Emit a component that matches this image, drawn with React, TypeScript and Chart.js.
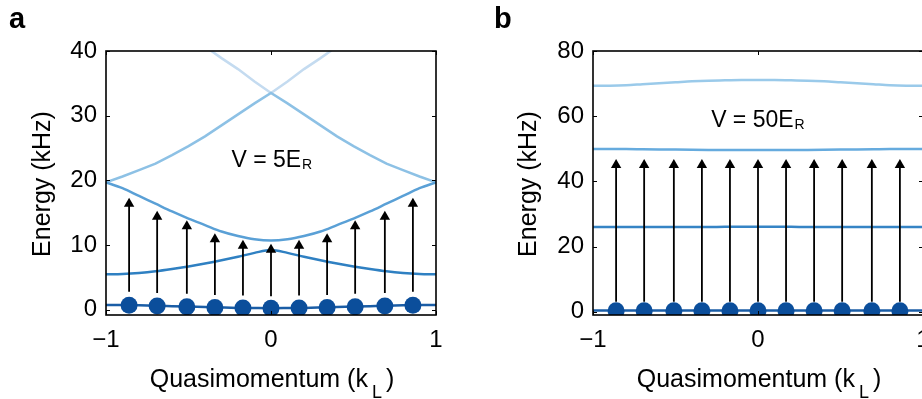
import React, { useEffect, useRef } from "react";
import { Chart, registerables } from "chart.js";

Chart.register(...registerables);

const FONT = "'Liberation Sans', Arial, Helvetica, sans-serif";

// ---------- shared data ----------
const kGrid = [-1, -0.9, -0.8, -0.7, -0.6, -0.5, -0.4, -0.3, -0.2, -0.1, 0, 0.1, 0.2, 0.3, 0.4, 0.5, 0.6, 0.7, 0.8, 0.9, 1];
const xTicks = [-1, 0, 1];
const dotK = [-0.86, -0.69, -0.51, -0.34, -0.17, 0, 0.17, 0.34, 0.51, 0.69, 0.86];

// ---------- panel a (V = 5 E_R) ----------
const yTicksA = [0, 10, 20, 30, 40];
const bandA1 = [0.75, 0.74, 0.7, 0.64, 0.57, 0.5, 0.43, 0.36, 0.3, 0.27, 0.25, 0.27, 0.3, 0.36, 0.43, 0.5, 0.57, 0.64, 0.7, 0.74, 0.75];
const bandA2 = [5.5, 5.55, 5.7, 5.95, 6.3, 6.7, 7.15, 7.65, 8.2, 8.8, 9.25, 8.8, 8.2, 7.65, 7.15, 6.7, 6.3, 5.95, 5.7, 5.55, 5.5];
const bandA3 = [19.7, 18.8, 17.6, 16.4, 15.2, 14.1, 13.1, 12.1, 11.4, 10.9, 10.7, 10.9, 11.4, 12.1, 13.1, 14.1, 15.2, 16.4, 17.6, 18.8, 19.7];
const bandA4 = [19.7, 20.6, 21.6, 22.6, 23.9, 25.3, 26.8, 28.5, 30.2, 31.9, 33.5, 31.9, 30.2, 28.5, 26.8, 25.3, 23.9, 22.6, 21.6, 20.6, 19.7];
const bandA5 = [null, null, null, null, null, 42.5, 40.7, 38.9, 37.2, 35.3, 33.5, 35.3, 37.2, 38.9, 40.7, 42.5, null, null, null, null, null];
const dotA = [0.72, 0.6, 0.48, 0.36, 0.28, 0.25, 0.28, 0.36, 0.48, 0.6, 0.72];
const arrowBaseA = [2.8, 2.6, 2.5, 2.3, 2.2, 2.1, 2.2, 2.3, 2.5, 2.6, 2.8];
const arrowTipA = [16.4, 14.4, 12.9, 10.9, 9.9, 9.3, 9.9, 10.9, 12.9, 14.4, 16.4];

// ---------- panel b (V = 50 E_R) ----------
const yTicksB = [0, 20, 40, 60, 80];
const bandB1 = [0.35, 0.35, 0.35, 0.35, 0.35, 0.35, 0.35, 0.35, 0.35, 0.35, 0.35, 0.35, 0.35, 0.35, 0.35, 0.35, 0.35, 0.35, 0.35, 0.35, 0.35];
const bandB2 = [26.0, 26.0, 26.0, 26.0, 26.0, 26.0, 26.0, 26.0, 26.05, 26.05, 26.05, 26.05, 26.05, 26.0, 26.0, 26.0, 26.0, 26.0, 26.0, 26.0, 26.0];
const bandB3 = [49.9, 49.9, 49.9, 49.85, 49.8, 49.75, 49.7, 49.65, 49.6, 49.6, 49.6, 49.6, 49.6, 49.65, 49.7, 49.75, 49.8, 49.85, 49.9, 49.9, 49.9];
const bandB4 = [69.3, 69.35, 69.5, 69.8, 70.1, 70.4, 70.7, 70.9, 71.0, 71.1, 71.1, 71.1, 71.0, 70.9, 70.7, 70.4, 70.1, 69.8, 69.5, 69.35, 69.3];
const dotB = [0.3, 0.3, 0.3, 0.3, 0.3, 0.3, 0.3, 0.3, 0.3, 0.3, 0.3];
const arrowBaseB = [3.1, 3.1, 3.1, 3.1, 3.1, 3.1, 3.1, 3.1, 3.1, 3.1, 3.1];
const arrowTipB = [45.0, 45.0, 45.0, 45.0, 45.0, 45.0, 45.0, 45.0, 45.0, 45.0, 45.0];

// ---------- styling ----------
const C_DOT = "#0b4e9b";
const C1 = "#1a5da6";
const C2 = "#2f80c2";
const C3 = "#5aa0d6";
const C4 = "#8dc1e5";
const C5 = "#c4dbf0";

type PanelCfg = {
  letter: string;
  letterX: number;
  letterY: number;
  yTicks: number[];
  yMin: number;
  yMax: number;
  yWidth: number;
  padRight: number;
  titleYX: number;
  label: string;
  labelX: number;
  labelY: number;
  bands: { values: (number | null)[]; color: string; smooth: boolean }[];
  dots: number[];
  base: number[];
  tip: number[];
};

const toXY = (xs: number[], ys: (number | null)[]) => xs.map((x, i) => ({ x, y: ys[i] }));

const fmt = (v: number) => (v < 0 ? "\u2212" + Math.abs(v) : String(v));

function makeDecorPlugin(cfg: PanelCfg) {
  return {
    id: "decor",
    afterDraw(chart: any) {
      const ctx = chart.ctx as CanvasRenderingContext2D;
      const { left, right, top, bottom } = chart.chartArea;
      const xs = chart.scales.x;
      const ys = chart.scales.y;
      ctx.save();
      // inward ticks (MATLAB style) on all four sides
      ctx.strokeStyle = "#000";
      ctx.lineWidth = 1;
      ctx.beginPath();
      for (const v of cfg.yTicks) {
        const py = Math.round(ys.getPixelForValue(v)) + 0.5;
        ctx.moveTo(left, py);
        ctx.lineTo(left + 4, py);
        ctx.moveTo(right, py);
        ctx.lineTo(right - 4, py);
      }
      for (const v of xTicks) {
        const px = Math.round(xs.getPixelForValue(v)) + 0.5;
        ctx.moveTo(px, bottom);
        ctx.lineTo(px, bottom - 4);
        ctx.moveTo(px, top);
        ctx.lineTo(px, top + 4);
      }
      ctx.stroke();
      // frame
      ctx.lineWidth = 1.6;
      ctx.strokeRect(left, top, right - left, bottom - top);

      ctx.fillStyle = "#000";
      // panel letter
      ctx.font = `bold 29px ${FONT}`;
      ctx.textAlign = "left";
      ctx.textBaseline = "alphabetic";
      ctx.fillText(cfg.letter, cfg.letterX, cfg.letterY);

      // y title (rotated)
      ctx.save();
      ctx.translate(cfg.titleYX, (top + bottom) / 2 + 1);
      ctx.rotate(-Math.PI / 2);
      ctx.font = `25px ${FONT}`;
      ctx.textAlign = "center";
      ctx.fillText("Energy (kHz)", 0, 0);
      ctx.restore();

      // x title with subscript
      const main = `25px ${FONT}`;
      const sub = `18px ${FONT}`;
      ctx.font = main;
      const t1 = "Quasimomentum (k";
      const t3 = ")";
      const w1 = ctx.measureText(t1).width;
      const w3 = ctx.measureText(t3).width;
      ctx.font = sub;
      const w2 = ctx.measureText("L").width;
      const gap = 4;
      const total = w1 + gap + w2 + gap + w3;
      let x0 = (left + right) / 2 + 1 - total / 2;
      const base = 386.5;
      ctx.textAlign = "left";
      ctx.font = main;
      ctx.fillText(t1, x0, base);
      x0 += w1 + gap;
      ctx.font = sub;
      ctx.fillText("L", x0, base + 11);
      x0 += w2 + gap;
      ctx.font = main;
      ctx.fillText(t3, x0, base);

      // V label
      const lx = xs.getPixelForValue(cfg.labelX);
      const ly = ys.getPixelForValue(cfg.labelY);
      ctx.font = `23px ${FONT}`;
      ctx.fillText(cfg.label, lx, ly);
      const wl = ctx.measureText(cfg.label).width;
      ctx.font = `14px ${FONT}`;
      ctx.fillText("R", lx + wl + 1, ly + 2);
      ctx.restore();
    },
  };
}

function buildChart(canvas: HTMLCanvasElement, cfg: PanelCfg) {
  const shafts: { x: number; y: number | null }[] = [];
  dotK.forEach((k, i) => {
    shafts.push({ x: k, y: cfg.base[i] });
    shafts.push({ x: k, y: cfg.tip[i] });
    shafts.push({ x: k, y: null });
  });
  const bandSets = cfg.bands.map((b, i) => ({
    type: "line" as const,
    data: toXY(kGrid, b.values),
    borderColor: b.color,
    borderWidth: 2.5,
    pointRadius: 0,
    ...(b.smooth ? { cubicInterpolationMode: "monotone" as const } : { tension: 0 }),
    spanGaps: false,
    order: 10 + i,
  }));
  return new Chart(canvas, {
    type: "line",
    data: {
      datasets: [
        {
          type: "line",
          data: toXY(dotK, cfg.dots),
          showLine: false,
          pointRadius: 8.5,
          pointBorderWidth: 0,
          pointBackgroundColor: C_DOT,
          pointBorderColor: C_DOT,
          order: 0,
        },
        {
          type: "line",
          data: toXY(dotK, cfg.tip),
          showLine: false,
          pointStyle: "triangle",
          pointRadius: 6,
          pointBorderWidth: 0,
          pointBackgroundColor: "#000",
          pointBorderColor: "#000",
          order: 1,
        },
        {
          type: "line",
          data: shafts,
          borderColor: "#000",
          borderWidth: 1.8,
          pointRadius: 0,
          spanGaps: false,
          tension: 0,
          order: 2,
        },
        ...bandSets,
      ] as any,
    },
    options: {
      animation: false,
      responsive: false,
      events: [],
      layout: { padding: { left: 0, right: cfg.padRight, top: 51, bottom: 0 } },
      plugins: { legend: { display: false }, tooltip: { enabled: false } },
      scales: {
        x: {
          type: "linear",
          min: -1,
          max: 1,
          grid: { display: false, drawTicks: false },
          border: { display: false },
          ticks: {
            padding: 11,
            color: "#000",
            font: { family: FONT, size: 24 },
            callback: (v: any) => fmt(Number(v)),
            maxRotation: 0,
          },
          afterBuildTicks: (s: any) => {
            s.ticks = xTicks.map((v) => ({ value: v }));
          },
          afterFit: (s: any) => {
            s.height = 84;
          },
        },
        y: {
          type: "linear",
          min: cfg.yMin,
          max: cfg.yMax,
          grid: { display: false, drawTicks: false },
          border: { display: false },
          ticks: {
            padding: 9,
            color: "#000",
            font: { family: FONT, size: 24 },
            callback: (v: any) => fmt(Number(v)),
          },
          afterBuildTicks: (s: any) => {
            s.ticks = cfg.yTicks.map((v) => ({ value: v }));
          },
          afterFit: (s: any) => {
            s.width = cfg.yWidth;
          },
        },
      },
    } as any,
    plugins: [makeDecorPlugin(cfg)],
  });
}

const panelA: PanelCfg = {
  letter: "a",
  letterX: 9,
  letterY: 27.5,
  yTicks: yTicksA,
  yMin: -0.8,
  yMax: 40,
  yWidth: 106,
  padRight: 25,
  titleYX: 50,
  label: "V = 5E",
  labelX: -0.24,
  labelY: 22.1,
  bands: [
    { values: bandA1, color: C1, smooth: true },
    { values: bandA2, color: C2, smooth: true },
    { values: bandA3, color: C3, smooth: true },
    { values: bandA4, color: C4, smooth: false },
    { values: bandA5, color: C5, smooth: false },
  ],
  dots: dotA,
  base: arrowBaseA,
  tip: arrowTipA,
};

const panelB: PanelCfg = {
  letter: "b",
  letterX: 33,
  letterY: 28,
  yTicks: yTicksB,
  yMin: -1,
  yMax: 80,
  yWidth: 132,
  padRight: 58,
  titleYX: 75,
  label: "V = 50E",
  labelX: -0.284,
  labelY: 56.8,
  bands: [
    { values: bandB1, color: C1, smooth: true },
    { values: bandB2, color: "#3584c5", smooth: true },
    { values: bandB3, color: "#66abde", smooth: true },
    { values: bandB4, color: "#9acaea", smooth: true },
  ],
  dots: dotB,
  base: arrowBaseB,
  tip: arrowTipB,
};

export default function App() {
  const refA = useRef<HTMLCanvasElement | null>(null);
  const refB = useRef<HTMLCanvasElement | null>(null);
  useEffect(() => {
    const a = buildChart(refA.current!, panelA);
    const b = buildChart(refB.current!, panelB);
    return () => {
      a.destroy();
      b.destroy();
    };
  }, []);
  return (
    <div
      style={{
        position: "fixed",
        left: 0,
        top: 0,
        width: 922,
        height: 399,
        overflow: "hidden",
        background: "#fff",
      }}
    >
      <canvas ref={refA} width={461} height={399} style={{ position: "absolute", left: 0, top: 0 }} />
      <canvas ref={refB} width={520} height={399} style={{ position: "absolute", left: 461, top: 0 }} />
    </div>
  );
}
